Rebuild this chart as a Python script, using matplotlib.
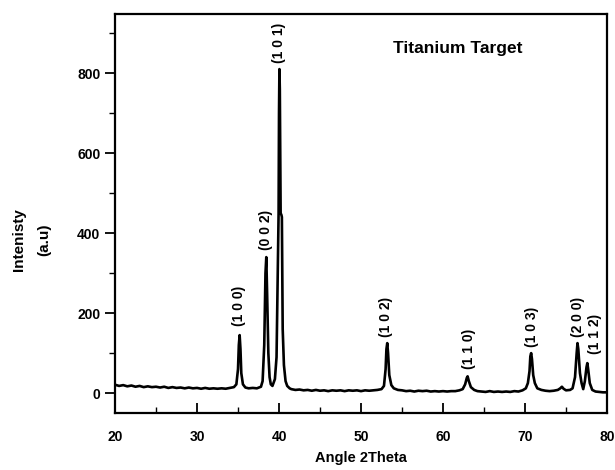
#!/usr/bin/env python3
"""XRD pattern of the titanium target (angle 2theta vs intensity)."""
import matplotlib
matplotlib.use("Agg")
import matplotlib.pyplot as plt
from matplotlib.ticker import MultipleLocator

plt.rcParams["font.family"] = ["Liberation Sans", "DejaVu Sans"]
plt.rcParams["font.weight"] = "bold"

# curve, point by point
two_theta = [
    20.0, 20.5, 21.0, 21.5, 22.0, 22.5, 23.0, 23.5, 24.0, 24.5,
    25.0, 25.5, 26.0, 26.5, 27.0, 27.5, 28.0, 28.5, 29.0, 29.5,
    30.0, 30.5, 31.0, 31.5, 32.0, 32.5, 33.0, 33.5, 34.0, 34.5,
    34.8, 35.0, 35.1, 35.2, 35.3, 35.4, 35.6, 35.9,
    36.3, 36.8, 37.3, 37.8,
    38.0, 38.2, 38.35, 38.45, 38.55, 38.7, 38.85, 39.0, 39.2,
    39.5, 39.7, 39.85, 39.95, 40.0, 40.05, 40.1, 40.15, 40.2, 40.3, 40.35, 40.4,
    40.45, 40.6, 40.8, 41.0, 41.3,
    41.5, 42.0, 42.5, 43.0, 43.5, 44.0, 44.5, 45.0, 45.5, 46.0,
    46.5, 47.0, 47.5, 48.0, 48.5, 49.0, 49.5, 50.0, 50.5, 51.0,
    51.5, 52.0, 52.5,
    52.8, 53.0, 53.1, 53.2, 53.3, 53.45, 53.7, 54.0, 54.5,
    55.0, 55.5, 56.0, 56.5, 57.0, 57.5, 58.0, 58.5, 59.0, 59.5,
    60.0, 60.5, 61.0, 61.5, 62.0, 62.4,
    62.7, 62.9, 63.0, 63.15, 63.4, 63.8,
    64.2, 64.7, 65.2, 65.7, 66.2, 66.7, 67.2, 67.7, 68.2, 68.7,
    69.2, 69.7, 70.1,
    70.35, 70.55, 70.65, 70.75, 70.85, 71.0, 71.2, 71.5, 72.0,
    72.5, 73.0, 73.5, 74.0, 74.3, 74.5, 74.7, 75.0, 75.5,
    75.8, 76.1, 76.3, 76.4, 76.5, 76.7, 76.9, 77.1,
    77.3, 77.5, 77.6, 77.7, 77.9, 78.2,
    78.6, 79.0, 79.5, 80.0,
]
intensity = [
    21, 18, 20, 17, 19, 16, 18, 15, 17, 15,
    16, 14, 16, 13, 15, 13, 14, 12, 14, 12,
    13, 11, 13, 11, 12, 11, 12, 11, 13, 15,
    22, 60, 120, 145, 110, 50, 22, 14,
    12, 13, 12, 16,
    30, 120, 300, 340, 250, 100, 40, 22, 18,
    35, 90, 300, 450, 700, 810, 760, 600, 450, 445, 440, 300,
    160, 70, 30, 18, 12,
    10, 8, 9, 7, 8, 6, 8, 6, 7, 5,
    7, 6, 7, 5, 7, 6, 7, 5, 7, 6,
    7, 8, 10,
    18, 60, 110, 125, 100, 45, 20, 12, 8,
    7, 5, 6, 4, 6, 5, 6, 4, 5, 4,
    5, 4, 5, 5, 7, 10,
    22, 38, 42, 30, 15, 8,
    5, 4, 3, 5, 3, 4, 3, 4, 3, 5,
    4, 7, 12,
    25, 55, 92, 100, 85, 45, 25, 12, 8,
    6, 5, 6, 8, 12, 16, 11, 7, 8,
    12, 40, 100, 125, 110, 50, 25, 10,
    30, 65, 75, 60, 25, 8,
    4, 3, 2, 2,
]

# (hkl) labels: text, x, bottom of label
hkl_text = ["(1 0 0)", "(0 0 2)", "(1 0 1)", "(1 0 2)", "(1 1 0)", "(1 0 3)", "(2 0 0)", "(1 1 2)"]
hkl_x = [35.1, 38.4, 40.0, 53.0, 63.2, 70.9, 76.5, 78.5]
hkl_y = [168, 358, 825, 140, 60, 115, 140, 97]

fig = plt.figure(figsize=(6.15, 4.70), dpi=100)
ax = fig.add_axes([0.187, 0.121, 0.80, 0.849])

ax.plot(two_theta, intensity, color="black", linewidth=1.9)

for t, x, y in zip(hkl_text, hkl_x, hkl_y):
    ax.text(x, y, t, rotation=90, ha="center", va="bottom", fontsize=10, fontweight="bold")

ax.text(53.9, 862, "Titanium Target", ha="left", va="center", fontsize=12.5, fontweight="bold")

ax.set_xlim(20, 80)
ax.set_ylim(-50, 947.5)
ax.xaxis.set_major_locator(MultipleLocator(10))
ax.xaxis.set_minor_locator(MultipleLocator(5))
ax.yaxis.set_major_locator(MultipleLocator(200))
ax.yaxis.set_minor_locator(MultipleLocator(100))
ax.set_yticks([0, 200, 400, 600, 800])

ax.tick_params(axis="x", which="both", direction="in", top=False, labelsize=10, pad=12)
ax.tick_params(axis="x", which="major", length=7, width=1.3)
ax.tick_params(axis="x", which="minor", length=4, width=1.0)
ax.tick_params(axis="y", which="both", direction="out", right=False, labelsize=10)
ax.tick_params(axis="y", which="major", length=7, width=1.3)
ax.tick_params(axis="y", which="minor", length=4, width=1.0)
for lab in ax.get_xticklabels() + ax.get_yticklabels():
    lab.set_fontweight("bold")

for sp in ax.spines.values():
    sp.set_linewidth(1.6)

ax.set_xlabel("Angle 2Theta", fontsize=10.5, fontweight="bold", labelpad=5)
ax.set_ylabel("Intenisty\n(a.u)", fontsize=11, fontweight="bold", linespacing=2.0)
ax.yaxis.set_label_coords(-0.13, 0.434)

fig.savefig("out.png", dpi=100)
